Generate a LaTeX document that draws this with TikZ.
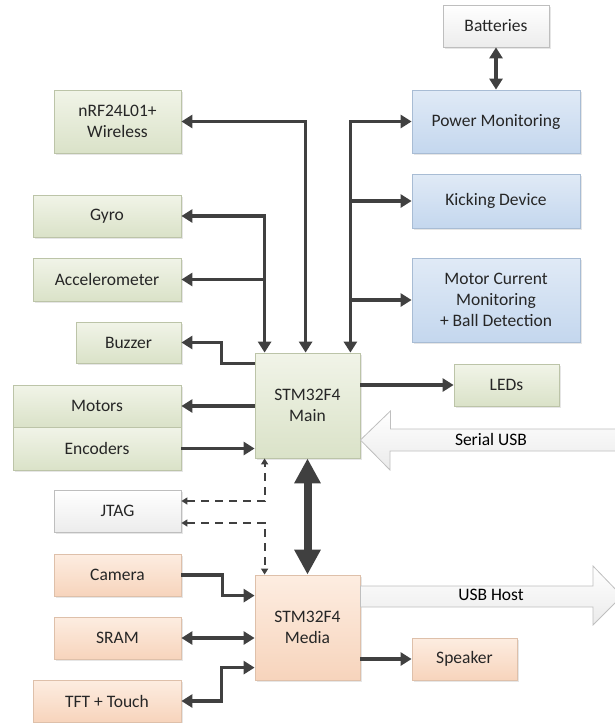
\documentclass[tikz,border=0pt]{standalone}
\usepackage{fontspec}
\setmainfont{Carlito}
\usepackage{xcolor}
\definecolor{arrowgray}{RGB}{64, 64, 64}
\definecolor{greentop}{RGB}{241, 244, 232}
\definecolor{greenbottom}{RGB}{218, 226, 200}
\definecolor{greenborder}{RGB}{188, 196, 168}
\definecolor{bluetop}{RGB}{224, 234, 246}
\definecolor{bluebottom}{RGB}{196, 215, 238}
\definecolor{blueborder}{RGB}{168, 188, 212}
\definecolor{orangetop}{RGB}{253, 237, 225}
\definecolor{orangebottom}{RGB}{247, 212, 188}
\definecolor{orangeborder}{RGB}{222, 192, 170}
\definecolor{graytop}{RGB}{255, 255, 255}
\definecolor{graybottom}{RGB}{236, 236, 236}
\definecolor{grayborder}{RGB}{190, 190, 190}
\usetikzlibrary{arrows.meta,shadows,calc}

\begin{document}
\begin{tikzpicture}[x=1pt, y=-1pt,
    font=\fontsize{17.5}{21}\selectfont,
    block/.style={draw=#1border, top color=#1top, bottom color=#1bottom,
        line width=0.8pt, inner sep=0pt, align=center, text=black!85,
        drop shadow={shadow xshift=1.5pt, shadow yshift=-1.5pt, opacity=0.2}},
    conn/.style={draw=arrowgray, line width=3.6pt, >={Triangle[length=11pt, width=13pt]}},
    fatconn/.style={draw=arrowgray, line width=8pt, >={Triangle[length=25pt, width=25pt]}},
    dashconn/.style={draw=arrowgray, line width=1.8pt, dash pattern=on 8pt off 6pt,
        >={Triangle[length=6pt, width=7pt]}},
    fatarrow/.style={draw=black!25, line width=0.8pt, top color=white, bottom color=black!8}]
    \useasboundingbox (0, 0) rectangle (614, 723);

    % Main controller side
    \node[block=green, minimum width=105pt, minimum height=105pt] (main) at (307.5, 405.5) {STM32F4\\Main};
    \node[block=green, minimum width=127pt, minimum height=63pt] (nrf) at (117.5, 121.5) {nRF24L01+\\Wireless};
    \node[block=green, minimum width=148pt, minimum height=42pt] (gyro) at (107, 216) {Gyro};
    \node[block=green, minimum width=148pt, minimum height=43pt] (accel) at (107, 279.5) {Accelerometer};
    \node[block=green, minimum width=105pt, minimum height=41pt] (buzzer) at (128.5, 342.5) {Buzzer};
    \node[block=green, minimum width=168pt, minimum height=42pt] (motors) at (97, 406) {Motors};
    \node[block=green, minimum width=168pt, minimum height=43pt] (enc) at (97, 448.5) {Encoders};
    \node[block=green, minimum width=105pt, minimum height=42pt] (leds) at (506.5, 385) {LEDs};

    % Power and kicker
    \node[block=gray, minimum width=106pt, minimum height=42pt] (batt) at (496, 26) {Batteries};
    \node[block=blue, minimum width=168pt, minimum height=63pt] (power) at (496, 121.5) {Power Monitoring};
    \node[block=blue, minimum width=168pt, minimum height=54pt] (kick) at (496, 201) {Kicking Device};
    \node[block=blue, minimum width=168pt, minimum height=84pt] (mcur) at (496, 300) {Motor Current\\Monitoring\\+ Ball Detection};

    % Media controller side
    \node[block=gray, minimum width=127pt, minimum height=42pt] (jtag) at (117.5, 511) {JTAG};
    \node[block=orange, minimum width=105pt, minimum height=105pt] (media) at (307.5, 627.5) {STM32F4\\Media};
    \node[block=orange, minimum width=127pt, minimum height=42pt] (cam) at (117.5, 575) {Camera};
    \node[block=orange, minimum width=127pt, minimum height=42pt] (sram) at (117.5, 638) {SRAM};
    \node[block=orange, minimum width=148pt, minimum height=42pt] (tft) at (107, 701) {TFT + Touch};
    \node[block=orange, minimum width=105pt, minimum height=42pt] (spk) at (464.5, 659) {Speaker};

    % Bus points
    \coordinate (gyrobus) at ([xshift=10pt]main.north west);
    \coordinate (nrfbus) at ([xshift=51pt]main.north west);
    \coordinate (pwrbus) at ([xshift=-10pt]main.north east);
    \coordinate (serialend) at (640, 440);
    \coordinate (hostend) at (593, 596);

    % Connections to main
    \draw[conn, <->] (nrf.east) -| (nrfbus);
    \draw[conn, <->] (gyro.east) -| (gyrobus);
    \draw[conn, ->] (accel.east -| gyrobus) -- (accel.east);
    \draw[conn, ->] ([yshift=-11pt]main.north west) -- ++(-33, 0) |- (buzzer.east);
    \draw[conn, ->] (main.west |- motors.east) -- (motors.east);
    \draw[conn, ->] (enc.east) -- (enc.east -| main.west);
    \draw[conn, ->] (main.east |- leds.west) -- (leds.west);
    \draw[conn, <->] (batt.south) -- (power.north);
    \draw[conn, <->] (power.west) -| (pwrbus);
    \draw[conn, ->] (kick.west -| pwrbus) -- (kick.west);
    \draw[conn, ->] (mcur.west -| pwrbus) -- (mcur.west);

    % Main <-> Media
    \draw[fatconn, <->] (main.south) -- (media.north);
    \draw[dashconn, <->] ([yshift=10pt]jtag.east) -| ([xshift=10pt]main.south west);
    \draw[dashconn, <->] ([yshift=-12pt]jtag.east) -| ([xshift=10pt]media.north west);

    % Connections to media
    \draw[conn, ->] (cam.east) -- ++(41, 0) |- ([yshift=-21pt]media.north west);
    \draw[conn, <->] (sram.east) -- (sram.east -| media.west);
    \draw[conn, <->] ([yshift=-93pt]media.north west) -- ++(-33, 0) |- (tft.east);
    \draw[conn, ->] (media.east |- spk.west) -- (spk.west);

    % USB arrows
    \draw[fatarrow] (main.east |- serialend) -- ++(30, -29) -- ++(0, 18) -- (serialend |- 0, 429)
        -- (serialend |- 0, 451) -- ++(-250, 0) -- ++(0, 19) -- cycle;
    \node (seriallbl) at (491, 439) {Serial USB};
    \draw[fatarrow] (media.east |- 0, 586) -- (hostend |- 0, 586) -- ++(0, -20) -- ++(29, 30)
        -- ++(-29, 29) -- ++(0, -18) -- (media.east |- 0, 607) -- cycle;
    \node (hostlbl) at (491, 595) {USB Host};
\end{tikzpicture}
\end{document}
